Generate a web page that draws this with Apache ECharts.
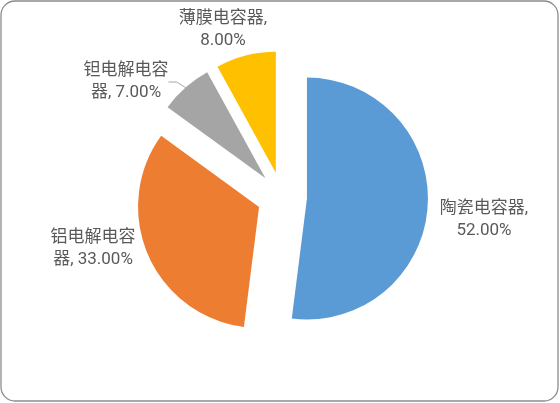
<!DOCTYPE html>
<html>
<head>
<meta charset="utf-8">
<script src="https://cdn.jsdelivr.net/npm/echarts@6/dist/echarts.min.js"></script>
<style>
html,body{margin:0;padding:0;background:#fff;}
#chart{width:560px;height:403px;}
</style>
</head>
<body>
<div id="chart"></div>
<script>
const categories = ['陶瓷电容器', '铝电解电容器', '钽电解电容器', '薄膜电容器'];
const shares = [52, 33, 7, 8];
const colors = ['#5B9BD5', '#ED7D31', '#A5A5A5', '#FFC000'];
// styling / layout constants
const pieCenter = [282, 197];
const pieRadius = 121;
const explode = 25;
const labelAnchors = [[484, 220], [93, 249], [126, 82], [223, 30]];
const showLeader = [false, false, true, false];

function wrapLabel(name, value) {
  const pct = value.toFixed(2) + '%';
  if (name.length <= 5) return name + ',\n' + pct;
  return name.slice(0, 5) + '\n' + name.slice(5) + ', ' + pct;
}

const total = shares.reduce((a, b) => a + b, 0);
let cum = 0;
const series = categories.map((cat, k) => {
  const mid = (90 - (cum + shares[k] / 2) / total * 360) * Math.PI / 180;
  cum += shares[k];
  const c = [pieCenter[0] + explode * Math.cos(mid), pieCenter[1] - explode * Math.sin(mid)];
  return {
    type: 'pie',
    center: c,
    radius: pieRadius,
    startAngle: 90,
    clockwise: true,
    silent: true,
    avoidLabelOverlap: false,
    emphasis: { disabled: true },
    label: {
      show: true,
      position: 'outside',
      fontFamily: 'Roboto, "Noto Sans CJK SC", sans-serif',
      fontSize: 17,
      lineHeight: 22,
      color: '#595959',
      align: 'center',
      formatter: p => wrapLabel(p.name, p.value)
    },
    labelLine: { show: false, lineStyle: { color: '#a6a6a6', width: 1 }, length: 6, length2: 8 },
    labelLayout: function (params) {
      const a = labelAnchors[params.dataIndex];
      return { x: a[0], y: a[1], align: 'center', verticalAlign: 'middle' };
    },
    data: categories.map((c2, i) => ({
      name: c2,
      value: shares[i],
      itemStyle: { color: i === k ? colors[i] : 'rgba(0,0,0,0)' },
      label: { show: i === k },
      labelLine: { show: i === k && showLeader[i] }
    }))
  };
});

const chart = echarts.init(document.getElementById('chart'));
chart.setOption({
  animation: false,
  graphic: [{
    type: 'rect',
    shape: { x: 1, y: 1, width: 557, height: 400, r: 14 },
    style: { fill: 'none', stroke: '#8c8c8c', lineWidth: 1.3 },
    silent: true
  }],
  series: series
});
</script>
</body>
</html>
